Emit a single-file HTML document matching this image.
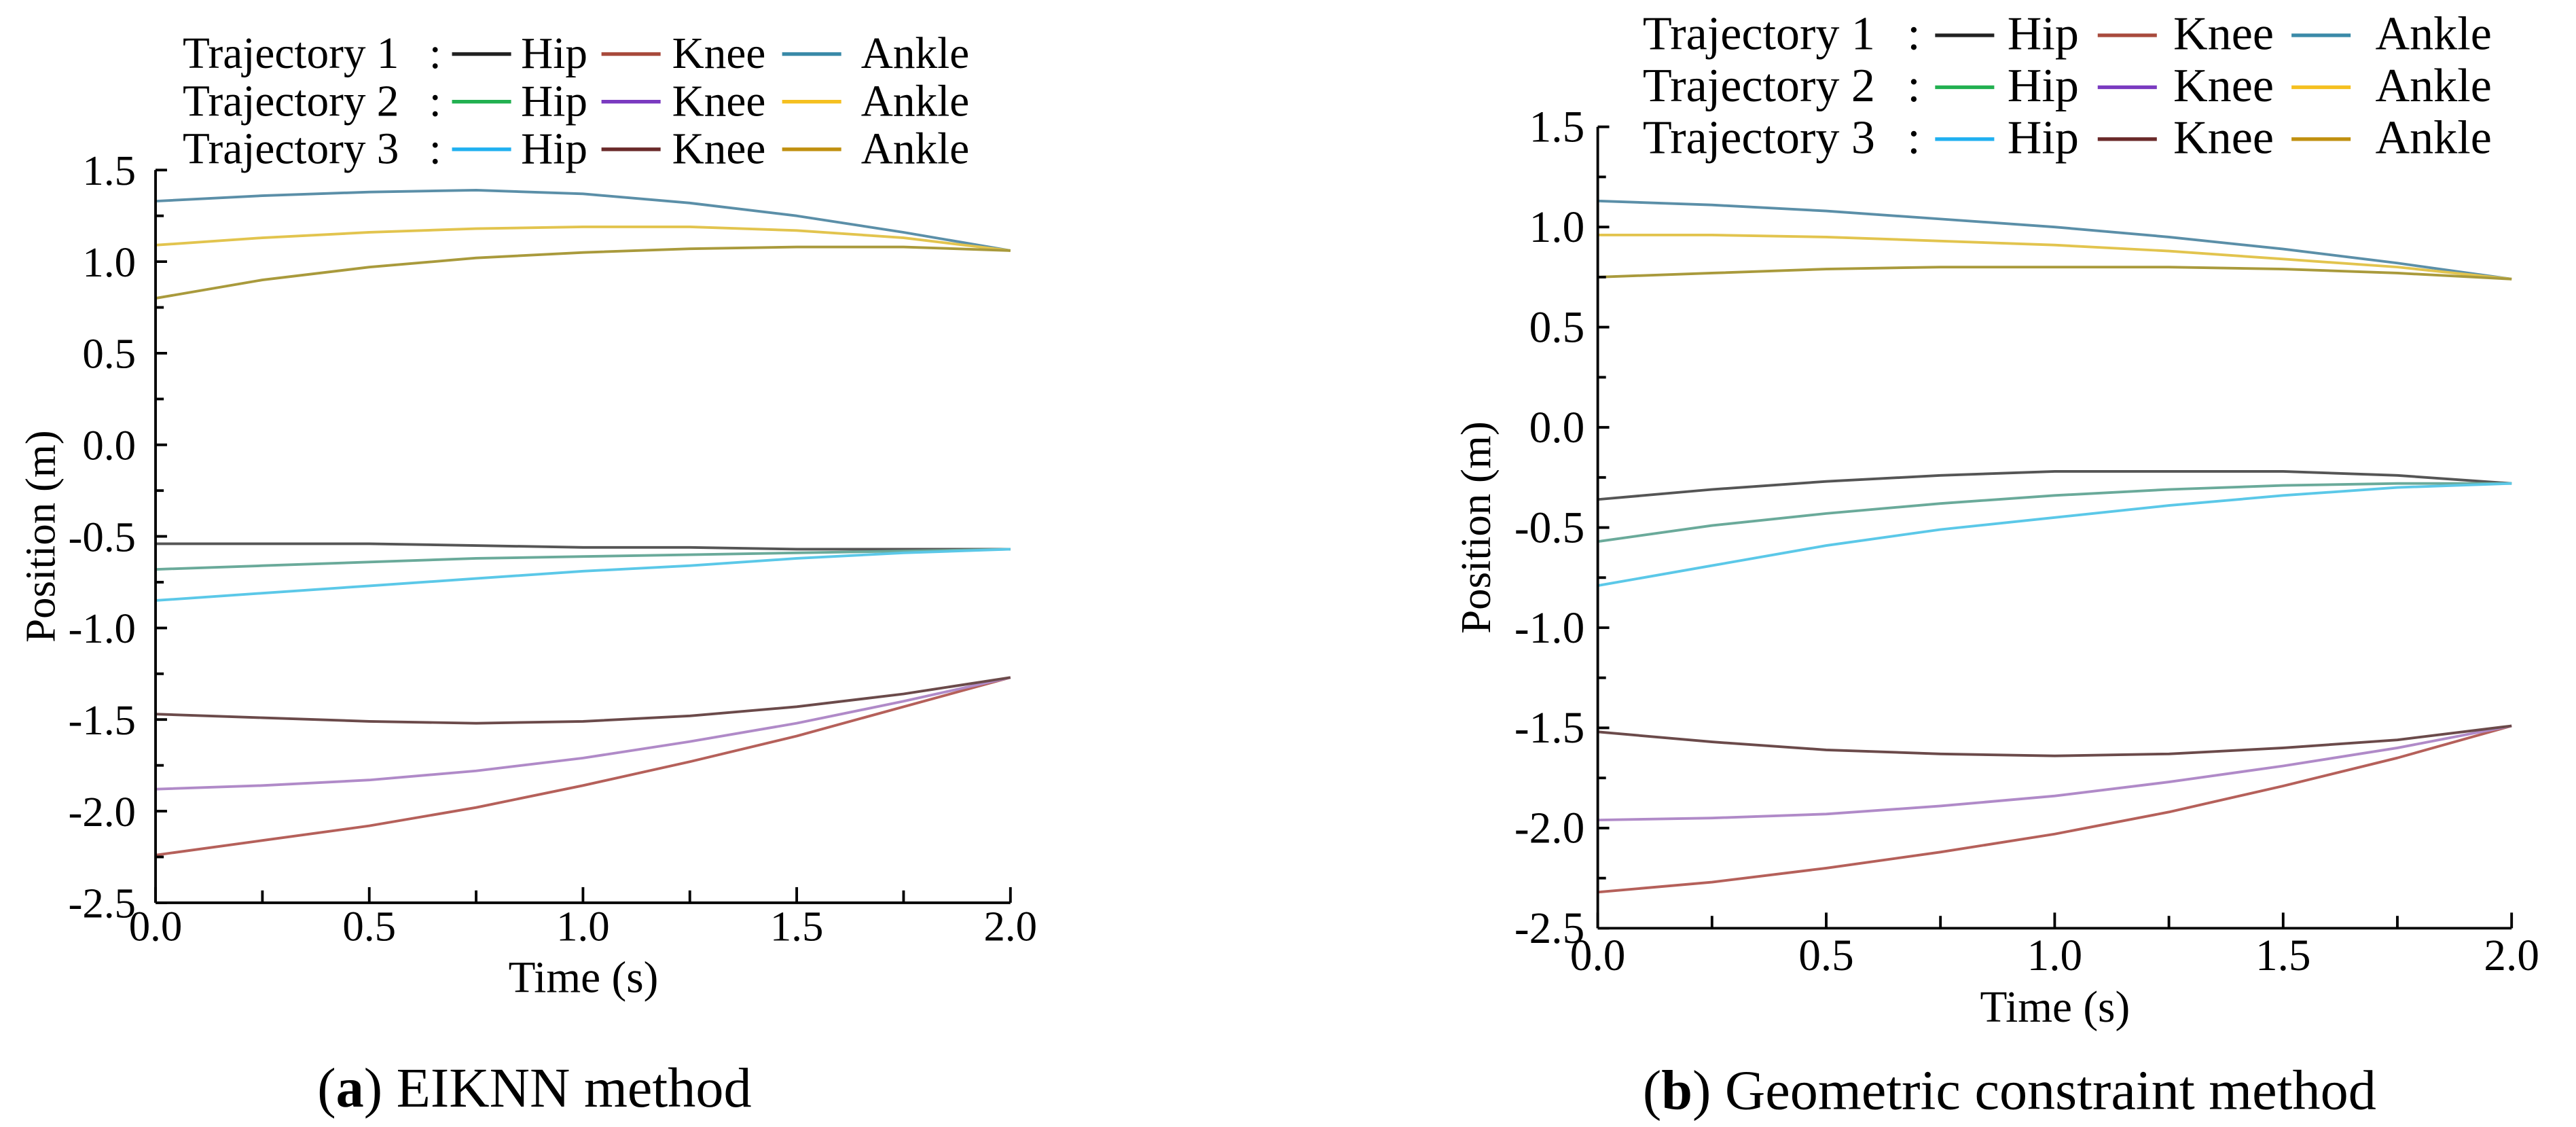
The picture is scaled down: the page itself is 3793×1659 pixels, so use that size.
<!DOCTYPE html>
<html><head><meta charset="utf-8"><style>
html,body{margin:0;padding:0;background:#fff;}
svg{display:block;font-family:"Liberation Serif",serif;}
</style></head><body>
<svg id="fig" width="3793" height="1659" viewBox="0 0 1568 686" xmlns="http://www.w3.org/2000/svg">
<rect width="1568" height="686" fill="#fff"/>
</svg>
<script>
const times = [0,0.25,0.5,0.75,1.0,1.25,1.5,1.75,2.0];
const seriesNames = ["traj1-hip","traj1-knee","traj1-ankle","traj2-hip","traj2-knee","traj2-ankle","traj3-hip","traj3-knee","traj3-ankle"];
const colors = ["#555555","#b5605a","#5b8fa8","#6aaa9a","#b08ac8","#e2c44e","#5bc8e8","#6b4a4a","#a99a3c"];
const legendColors = ["#222222","#a84a3c","#3a8aa8","#22b050","#7a3ac0","#f5c020","#20b0f0","#6a2a2a","#c09010"];
const aHip1=[-0.54,-0.54,-0.54,-0.55,-0.56,-0.56,-0.57,-0.57,-0.57];
const aKnee1=[-2.24,-2.16,-2.08,-1.98,-1.86,-1.73,-1.59,-1.43,-1.27];
const aAnkle1=[1.33,1.36,1.38,1.39,1.37,1.32,1.25,1.16,1.06];
const aHip2=[-0.68,-0.66,-0.64,-0.62,-0.61,-0.60,-0.59,-0.58,-0.57];
const aKnee2=[-1.88,-1.86,-1.83,-1.78,-1.71,-1.62,-1.52,-1.40,-1.27];
const aAnkle2=[1.09,1.13,1.16,1.18,1.19,1.19,1.17,1.13,1.06];
const aHip3=[-0.85,-0.81,-0.77,-0.73,-0.69,-0.66,-0.62,-0.59,-0.57];
const aKnee3=[-1.47,-1.49,-1.51,-1.52,-1.51,-1.48,-1.43,-1.36,-1.27];
const aAnkle3=[0.80,0.90,0.97,1.02,1.05,1.07,1.08,1.08,1.06];
const bHip1=[-0.36,-0.31,-0.27,-0.24,-0.22,-0.22,-0.22,-0.24,-0.28];
const bKnee1=[-2.32,-2.27,-2.20,-2.12,-2.03,-1.92,-1.79,-1.65,-1.49];
const bAnkle1=[1.13,1.11,1.08,1.04,1.00,0.95,0.89,0.82,0.74];
const bHip2=[-0.57,-0.49,-0.43,-0.38,-0.34,-0.31,-0.29,-0.28,-0.28];
const bKnee2=[-1.96,-1.95,-1.93,-1.89,-1.84,-1.77,-1.69,-1.60,-1.49];
const bAnkle2=[0.96,0.96,0.95,0.93,0.91,0.88,0.84,0.80,0.74];
const bHip3=[-0.79,-0.69,-0.59,-0.51,-0.45,-0.39,-0.34,-0.30,-0.28];
const bKnee3=[-1.52,-1.57,-1.61,-1.63,-1.64,-1.63,-1.60,-1.56,-1.49];
const bAnkle3=[0.75,0.77,0.79,0.80,0.80,0.80,0.79,0.77,0.74];
const yTicks=["1.5","1.0","0.5","0.0","-0.5","-1.0","-1.5","-2.0","-2.5"];
const xTicks=["0.0","0.5","1.0","1.5","2.0"];

const NS="http://www.w3.org/2000/svg";
const svg=document.getElementById('fig');
function mk(tag,attrs,parent){const e=document.createElementNS(NS,tag);for(const k in attrs)e.setAttribute(k,attrs[k]);(parent||svg).appendChild(e);return e;}
function txt(s,attrs,parent){const e=mk('text',attrs,parent);e.textContent=s;return e;}

function panel(cfg){
  const g=mk('g',{});
  
  
  const X=t=>cfg.x0+(t-0)/2*(cfg.x1-cfg.x0);
  const Y=v=>cfg.y0+(1.5-v)/4*(cfg.y1-cfg.y0);
  cfg.data.forEach((arr,i)=>{
    const d=arr.map((v,j)=>(j?'L':'M')+X(times[j]).toFixed(2)+' '+Y(v).toFixed(2)).join(' ');
    const p=mk('path',{d:d,fill:'none',stroke:colors[i],'stroke-width':1.6,'stroke-linejoin':'round'},g);
    
    
  });
  const ya=mk('line',{x1:cfg.x0,y1:cfg.y0,x2:cfg.x0,y2:cfg.y1,stroke:'#000','stroke-width':1.6},g);
  
  
  const xa=mk('line',{x1:cfg.x0,y1:cfg.y1,x2:cfg.x1,y2:cfg.y1,stroke:'#000','stroke-width':1.6},g);
  
  
  yTicks.forEach(s=>{
    const v=parseFloat(s),y=Y(v);
    mk('line',{x1:cfg.x0,y1:y,x2:cfg.x0+7,y2:y,stroke:'#000','stroke-width':1.6},g);
    if(v>-2.5) mk('line',{x1:cfg.x0,y1:Y(v-0.25),x2:cfg.x0+5,y2:Y(v-0.25),stroke:'#000','stroke-width':1.6},g);
    const t=txt(s,{x:cfg.x0-cfg.ygap,y:y+9,'text-anchor':'end','font-size':cfg.fs},g);
    
    
  });
  xTicks.forEach(s=>{
    const v=parseFloat(s),x=X(v);
    mk('line',{x1:x,y1:cfg.y1,x2:x,y2:cfg.y1-9.5,stroke:'#000','stroke-width':1.6},g);
    if(v<2) mk('line',{x1:X(v+0.25),y1:cfg.y1,x2:X(v+0.25),y2:cfg.y1-7.5,stroke:'#000','stroke-width':1.6},g);
    const t=txt(s,{x:x,y:cfg.xtb,'text-anchor':'middle','font-size':cfg.fs},g);
    
    
  });
  const xt=txt(cfg.xlabel,{x:cfg.xlx,y:cfg.xly,'text-anchor':'middle','font-size':27,'xml:space':'preserve'},g);
  
  
  const yt=txt('Position (m)',{x:0,y:0,'text-anchor':'middle','font-size':26,transform:`translate(${cfg.ylx},${(cfg.y0+cfg.y1)/2}) rotate(-90)`},g);
  
  
  const lg=mk('g',{},g);
  
  
  const L=cfg.leg;
  const names=['Hip','Knee','Ankle'];
  for(let r=0;r<3;r++){
    const y=L.y+r*L.dy;
    const rt=txt('Trajectory '+(r+1),{x:L.x,y:y,'font-size':L.fs},lg);
    
    
    txt(':',{x:L.colon,y:y,'font-size':L.fs},lg);
    names.forEach((n,k)=>{
      const ln=mk('line',{x1:L.lines[k],y1:y-8.5,x2:L.lines[k]+36,y2:y-8.5,stroke:legendColors[r*3+k],'stroke-width':2.2},lg);
      
      
      const lt=txt(n,{x:L.labels[k],y:y,'font-size':L.fs},lg);
      
      
    });
  }
  const cap=mk('text',{x:cfg.capx,y:cfg.capy,'font-size':34},g);
  
  
  cap.innerHTML='(<tspan font-weight="bold">'+cfg.letter+'</tspan>) '+cfg.caption;
}

panel({name:'chart-a',prefix:'a',x0:94.5,x1:615,y0:103.5,y1:549.5,fs:26,ygap:12,xtb:572.5,
  data:[aHip1,aKnee1,aAnkle1,aHip2,aKnee2,aAnkle2,aHip3,aKnee3,aAnkle3],
  xlabel:'Time  (s)',xlx:355,xly:604,ylx:33,
  leg:{x:111,y:41.4,dy:29,fs:27,colon:261,lines:[275,366,476],labels:[317,409,524]},
  capx:193,capy:673.5,letter:'a',caption:'EIKNN method'});
panel({name:'chart-b',prefix:'b',x0:972.6,x1:1529,y0:77.2,y1:565,fs:27,ygap:8,xtb:590.5,
  data:[bHip1,bKnee1,bAnkle1,bHip2,bKnee2,bAnkle2,bHip3,bKnee3,bAnkle3],
  xlabel:'Time (s)',xlx:1251,xly:622,ylx:907,
  leg:{x:1000,y:30,dy:31.6,fs:29,colon:1161,lines:[1178,1277,1395],labels:[1222,1323,1446]},
  capx:1000,capy:675,letter:'b',caption:'Geometric constraint method'});
</script>
</body></html>
